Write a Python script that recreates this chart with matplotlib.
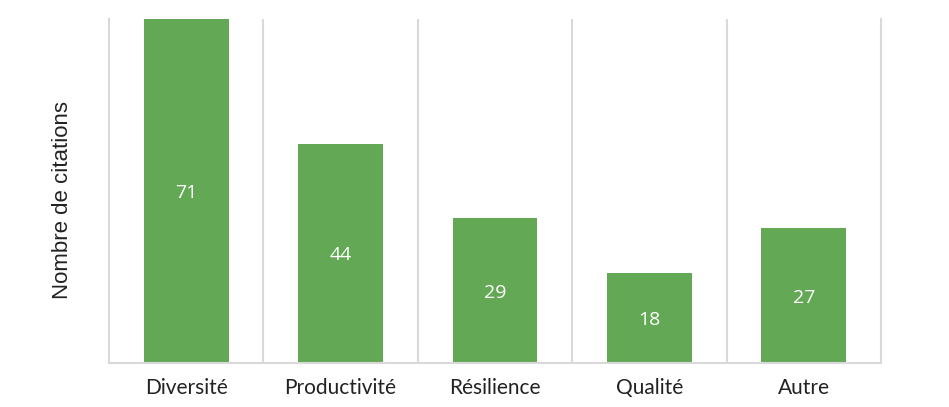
import numpy as np
import matplotlib
matplotlib.use("Agg")
import matplotlib.pyplot as plt

categories = ["Diversité", "Productivité", "Résilience", "Qualité", "Autre"]
citations = [71, 44, 29, 18, 27]
y_max = 69  # the first bar is cut at the top in the original

bar_color = "#63a855"
grid_color = "#d9d9d9"

fig = plt.figure(figsize=(9.49, 4.07), dpi=100)
ax = fig.add_axes([109 / 949, 44 / 407, 772 / 949, 344 / 407])

x = np.arange(len(categories))
ax.bar(x, citations, width=0.55, color=bar_color, zorder=2)

ax.set_xlim(-0.5, len(categories) - 0.5)
ax.set_ylim(0, y_max)

# value labels centred in the visible part of each bar
for xi, v in zip(x, citations):
    ax.annotate(str(v), (xi, min(v, y_max) / 2), xytext=(0, -1.5),
                textcoords="offset points", ha="center", va="center",
                color="white", fontsize=14, family="Open Sans", zorder=3)

# separators between categories
for b in np.arange(0.5, len(categories) - 0.5):
    ax.axvline(b, color=grid_color, lw=1.5, zorder=1)

ax.spines["top"].set_visible(False)
for s in ["left", "right", "bottom"]:
    ax.spines[s].set_color(grid_color)
    ax.spines[s].set_linewidth(1.5)

ax.set_xticks(x)
ax.set_xticklabels(categories, fontsize=15, family="Lato", color="#222222")
ax.tick_params(axis="x", length=0, pad=11)
ax.set_yticks([])

ax.set_ylabel("Nombre de citations", fontsize=16, family="Liberation Sans", color="#222222")
ax.yaxis.set_label_coords(-0.046, 0.475)

fig.savefig("out.png", dpi=100)
